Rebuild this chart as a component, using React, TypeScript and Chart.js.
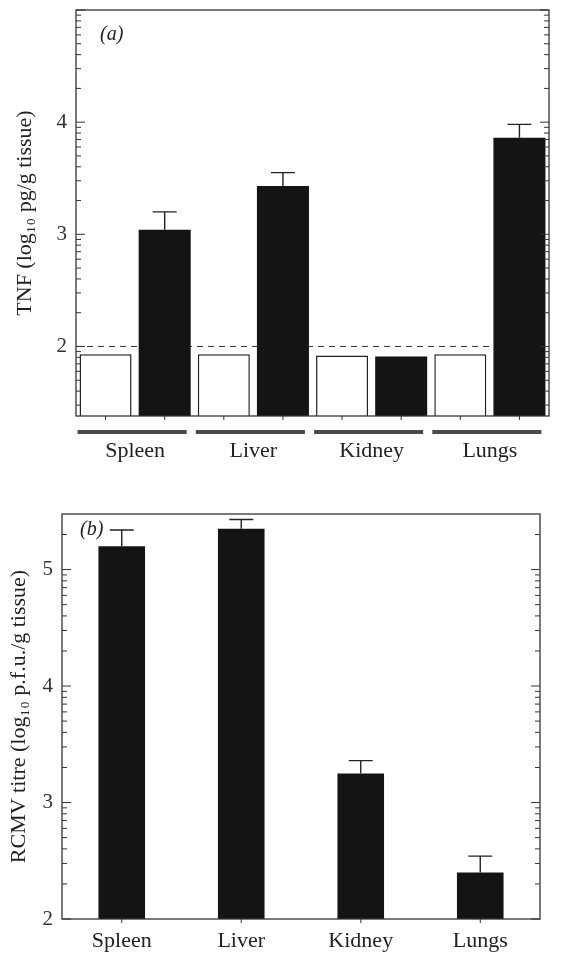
import { useEffect, useRef } from "react";
import { Chart, registerables } from "chart.js";

Chart.register(...registerables);

const FONT = "'Liberation Serif', 'Times New Roman', serif";
const INK = "#222";

// ---- Data ----
const organs = ["Spleen", "Liver", "Kidney", "Lungs"];

// Panel (a): TNF, log10 pg/g tissue
const tnfControl = [1.93, 1.93, 1.92, 1.93];
const tnfInfected = [3.04, 3.43, 1.91, 3.86];
const tnfInfectedErr = [0.16, 0.12, 0, 0.12];
const tnfDetectionLimit = 2;
const tnfTicks = [2, 3, 4];
const tnfMin = 1.38;
const tnfMax = 5.0;

// Panel (b): RCMV titre, log10 p.f.u./g tissue
const rcmvTitre = [5.2, 5.35, 3.25, 2.4];
const rcmvErr = [0.14, 0.08, 0.11, 0.14];
const rcmvTicks = [2, 3, 4, 5];
const rcmvMin = 2;
const rcmvMax = 5.477;

function logTicks(min: number, max: number) {
  const majors: number[] = [];
  const minors: number[] = [];
  for (let d = Math.floor(min) - 1; d <= Math.ceil(max); d++) {
    if (d >= min - 1e-6 && d <= max + 1e-6) majors.push(d);
    for (let k = 2; k <= 9; k++) {
      const v = d + Math.log10(k);
      if (v >= min && v <= max) minors.push(v);
    }
  }
  return { majors, minors };
}

type PanelCfg = {
  label: string;
  labelX: number;
  labelY: number;
  min: number;
  max: number;
  dashed?: number;
  errs: { ds: number; err: number[] }[];
  underline: boolean;
};

function makePlugin(cfg: PanelCfg) {
  return {
    id: "panelDecor",
    beforeDatasetsDraw(chart: any) {
      if (cfg.dashed === undefined) return;
      const { ctx, chartArea } = chart;
      const y = chart.scales.y.getPixelForValue(cfg.dashed);
      ctx.save();
      ctx.strokeStyle = "#333";
      ctx.lineWidth = 1;
      ctx.setLineDash([6, 5]);
      ctx.beginPath();
      ctx.moveTo(chartArea.left, y);
      ctx.lineTo(chartArea.right, y);
      ctx.stroke();
      ctx.restore();
    },
    afterDatasetsDraw(chart: any) {
      const { ctx, chartArea } = chart;
      const ys = chart.scales.y;
      ctx.save();
      // error bars
      ctx.strokeStyle = INK;
      ctx.lineWidth = 1.4;
      for (const e of cfg.errs) {
        const meta = chart.getDatasetMeta(e.ds);
        const data = chart.data.datasets[e.ds].data as number[];
        meta.data.forEach((el: any, i: number) => {
          if (!e.err[i]) return;
          const top = ys.getPixelForValue(data[i] + e.err[i]);
          ctx.beginPath();
          ctx.moveTo(el.x, el.y);
          ctx.lineTo(el.x, top);
          ctx.moveTo(el.x - 12, top);
          ctx.lineTo(el.x + 12, top);
          ctx.stroke();
        });
      }
      // frame
      ctx.strokeStyle = "#333";
      ctx.lineWidth = 1.3;
      ctx.strokeRect(chartArea.left, chartArea.top, chartArea.right - chartArea.left, chartArea.bottom - chartArea.top);
      // y ticks (inward, both sides)
      const { majors, minors } = logTicks(cfg.min, cfg.max);
      ctx.lineWidth = 1;
      const drawTick = (v: number, len: number) => {
        const y = ys.getPixelForValue(v);
        ctx.beginPath();
        ctx.moveTo(chartArea.left, y);
        ctx.lineTo(chartArea.left + len, y);
        ctx.moveTo(chartArea.right, y);
        ctx.lineTo(chartArea.right - len, y);
        ctx.stroke();
      };
      majors.forEach((v) => drawTick(v, 9));
      minors.forEach((v) => drawTick(v, 5));
      // x ticks at bar centres (outward)
      chart.data.datasets.forEach((_: any, di: number) => {
        chart.getDatasetMeta(di).data.forEach((el: any) => {
          ctx.beginPath();
          ctx.moveTo(el.x, chartArea.bottom);
          ctx.lineTo(el.x, chartArea.bottom + 4);
          ctx.stroke();
        });
      });
      // group underlines
      if (cfg.underline) {
        const m0 = chart.getDatasetMeta(0).data;
        const m1 = chart.getDatasetMeta(1).data;
        ctx.strokeStyle = "#4a4a4a";
        ctx.lineWidth = 4;
        m0.forEach((el: any, i: number) => {
          const a = el.x - el.width / 2 - 2;
          const b = m1[i].x + m1[i].width / 2 - 4;
          const y = chartArea.bottom + 16;
          ctx.beginPath();
          ctx.moveTo(a, y);
          ctx.lineTo(b, y);
          ctx.stroke();
        });
      }
      // panel label
      ctx.fillStyle = INK;
      ctx.font = `italic 20px ${FONT}`;
      ctx.textBaseline = "middle";
      ctx.textAlign = "left";
      ctx.fillText(cfg.label, cfg.labelX, cfg.labelY);
      ctx.restore();
    },
  };
}

function yScale(min: number, max: number, ticks: number[], width: number, title: string, titlePad: number) {
  return {
    type: "linear" as const,
    position: "left" as const,
    min,
    max,
    afterBuildTicks: (s: any) => {
      s.ticks = ticks.map((v) => ({ value: v }));
    },
    afterFit: (s: any) => {
      s.width = width;
      s.paddingTop = 0;
      s.paddingBottom = 0;
    },
    grid: { display: false, drawTicks: false },
    border: { display: false },
    ticks: {
      font: { family: FONT, size: 21 },
      color: "#333",
      padding: 9,
      callback: (v: any) => String(v),
    },
    title: {
      display: true,
      text: title,
      font: { family: FONT, size: 22 },
      color: INK,
      padding: { top: titlePad, bottom: 0 },
    },
  };
}

function xScale(height: number, padding: number) {
  return {
    type: "category" as const,
    afterFit: (s: any) => {
      s.height = height;
    },
    grid: { display: false, drawTicks: false },
    border: { display: false },
    ticks: { font: { family: FONT, size: 22 }, color: INK, padding },
  };
}

function TopChart() {
  const ref = useRef<HTMLCanvasElement>(null);
  useEffect(() => {
    const chart = new Chart(ref.current!, {
      type: "bar",
      data: {
        labels: organs,
        datasets: [
          {
            data: tnfControl,
            backgroundColor: "#ffffff",
            borderColor: INK,
            borderWidth: 1.5,
            barPercentage: 0.88,
            categoryPercentage: 1,
          },
          {
            data: tnfInfected,
            backgroundColor: "#141414",
            borderWidth: 0,
            barPercentage: 0.88,
            categoryPercentage: 1,
          },
        ],
      },
      options: {
        animation: false,
        responsive: false,
        devicePixelRatio: 1,
        layout: { padding: { top: 10, right: 12, left: 0, bottom: 0 } },
        plugins: { legend: { display: false }, tooltip: { enabled: false } },
        scales: {
          x: xScale(54, 22),
          y: yScale(tnfMin, tnfMax, tnfTicks, 76, "TNF (log₁₀ pg/g tissue)", 12),
        },
      },
      plugins: [
        makePlugin({
          label: "(a)",
          labelX: 100,
          labelY: 35,
          min: tnfMin,
          max: tnfMax,
          dashed: tnfDetectionLimit,
          errs: [{ ds: 1, err: tnfInfectedErr }],
          underline: true,
        }),
      ],
    } as any);
    return () => chart.destroy();
  }, []);
  return <canvas ref={ref} width={561} height={470} style={{ position: "absolute", left: 0, top: 0 }} />;
}

function BottomChart() {
  const ref = useRef<HTMLCanvasElement>(null);
  useEffect(() => {
    const chart = new Chart(ref.current!, {
      type: "bar",
      data: {
        labels: organs,
        datasets: [
          {
            data: rcmvTitre,
            backgroundColor: "#141414",
            borderWidth: 0,
            barPercentage: 0.39,
            categoryPercentage: 1,
          },
        ],
      },
      options: {
        animation: false,
        responsive: false,
        devicePixelRatio: 1,
        layout: { padding: { top: 44, right: 21, left: 0, bottom: 0 } },
        plugins: { legend: { display: false }, tooltip: { enabled: false } },
        scales: {
          x: xScale(36, 9),
          y: yScale(rcmvMin, rcmvMax, rcmvTicks, 62, "RCMV titre (log₁₀ p.f.u./g tissue)", 6),
        },
      },
      plugins: [
        makePlugin({
          label: "(b)",
          labelX: 80,
          labelY: 60,
          min: rcmvMin,
          max: rcmvMax,
          errs: [{ ds: 0, err: rcmvErr }],
          underline: false,
        }),
      ],
    } as any);
    return () => chart.destroy();
  }, []);
  return <canvas ref={ref} width={561} height={485} style={{ position: "absolute", left: 0, top: 470 }} />;
}

export default function App() {
  return (
    <div style={{ position: "absolute", left: 0, top: 0, width: 561, height: 955, background: "#fff", overflow: "hidden" }}>
      <TopChart />
      <BottomChart />
    </div>
  );
}
